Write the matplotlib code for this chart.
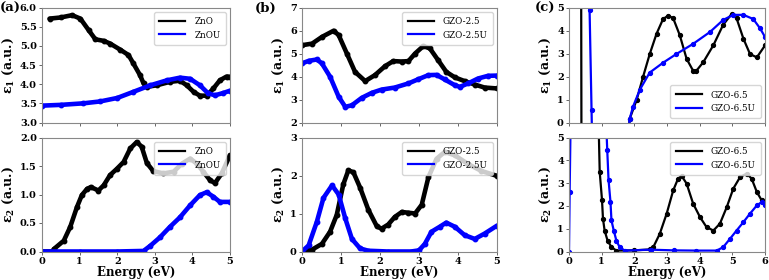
import matplotlib
matplotlib.use("Agg")
import matplotlib.pyplot as plt
from matplotlib.lines import Line2D

plt.rcParams['font.family'] = ['DejaVu Serif']
plt.rcParams['mathtext.fontset'] = 'dejavuserif'

# ---------------- Panel (a) ----------------
a1_zno_x = [0.2, 0.5, 0.8, 1.02, 1.24, 1.42, 1.64, 1.81, 2.08, 2.3, 2.43, 2.61, 2.7, 2.79, 3.05, 3.4, 3.67, 3.85, 4.03, 4.2, 4.38, 4.56, 4.73, 4.91, 5.0]
a1_zno_y = [5.71, 5.74, 5.8, 5.71, 5.41, 5.17, 5.13, 5.06, 4.9, 4.76, 4.54, 4.23, 4.02, 3.93, 3.97, 4.06, 4.09, 3.97, 3.8, 3.7, 3.7, 3.89, 4.1, 4.2, 4.19]
a1_znou_x = [0.0, 0.5, 1.1, 1.55, 2.0, 2.43, 2.88, 3.32, 3.67, 3.94, 4.2, 4.42, 4.6, 4.82, 5.0]
a1_znou_y = [3.44, 3.46, 3.5, 3.55, 3.64, 3.8, 3.97, 4.1, 4.17, 4.14, 3.97, 3.76, 3.71, 3.77, 3.83]

a2_zno_x = [0.0, 0.3, 0.31, 0.58, 0.75, 0.93, 1.06, 1.2, 1.3, 1.5, 1.64, 1.81, 1.99, 2.17, 2.35, 2.52, 2.65, 2.79, 2.96, 3.23, 3.5, 3.72, 3.94, 4.12, 4.29, 4.47, 4.6, 4.78, 5.0]
a2_zno_y = [0.0, 0.0, 0.04, 0.19, 0.43, 0.78, 0.99, 1.1, 1.13, 1.07, 1.16, 1.34, 1.45, 1.57, 1.81, 1.92, 1.84, 1.55, 1.41, 1.37, 1.4, 1.54, 1.63, 1.54, 1.4, 1.25, 1.2, 1.37, 1.69]
a2_znou_x = [0.0, 1.0, 2.0, 2.7, 2.88, 3.14, 3.4, 3.67, 3.94, 4.2, 4.38, 4.56, 4.73, 5.0]
a2_znou_y = [0.0, 0.0, 0.0, 0.01, 0.1, 0.25, 0.43, 0.6, 0.81, 0.99, 1.04, 0.96, 0.87, 0.87]

# ---------------- Panel (b) ----------------
b1_g_x = [0.0, 0.26, 0.51, 0.81, 0.94, 1.15, 1.36, 1.62, 1.87, 2.13, 2.34, 2.56, 2.73, 2.9, 3.11, 3.28, 3.49, 3.7, 3.92, 4.17, 4.43, 4.68, 5.0]
b1_g_y = [5.36, 5.43, 5.72, 5.99, 5.8, 5.0, 4.2, 3.8, 4.06, 4.45, 4.67, 4.65, 4.67, 5.0, 5.32, 5.22, 4.71, 4.2, 3.96, 3.8, 3.65, 3.52, 3.48]
b1_gu_x = [0.0, 0.17, 0.38, 0.51, 0.72, 0.94, 1.11, 1.28, 1.53, 1.79, 2.04, 2.38, 2.73, 2.98, 3.24, 3.45, 3.66, 3.92, 4.05, 4.26, 4.51, 4.77, 5.0]
b1_gu_y = [4.57, 4.68, 4.74, 4.57, 3.99, 3.12, 2.68, 2.75, 3.07, 3.29, 3.43, 3.52, 3.7, 3.88, 4.06, 4.07, 3.87, 3.62, 3.55, 3.7, 3.91, 4.03, 4.04]

b2_g_x = [0.0, 0.26, 0.51, 0.72, 0.89, 1.06, 1.19, 1.32, 1.49, 1.7, 1.92, 2.04, 2.21, 2.38, 2.56, 2.73, 2.9, 3.07, 3.24, 3.45, 3.66, 3.92, 4.26, 4.6, 5.0]
b2_g_y = [0.0, 0.05, 0.2, 0.52, 0.96, 1.77, 2.14, 2.08, 1.68, 1.1, 0.66, 0.6, 0.71, 0.91, 1.04, 1.02, 1.0, 1.23, 1.95, 2.44, 2.62, 2.53, 2.3, 2.12, 1.99]
b2_gu_x = [0.0, 0.17, 0.38, 0.55, 0.77, 0.94, 1.11, 1.28, 1.49, 1.7, 2.2, 2.8, 3.0, 3.15, 3.32, 3.53, 3.7, 3.92, 4.17, 4.43, 4.68, 5.0]
b2_gu_y = [0.0, 0.16, 0.78, 1.41, 1.74, 1.5, 0.87, 0.33, 0.08, 0.02, 0.0, 0.0, 0.03, 0.2, 0.52, 0.65, 0.76, 0.65, 0.43, 0.33, 0.47, 0.68]

# ---------------- Panel (c) ----------------
c1_g_x = [0.3, 0.37, 0.39, 0.6, 1.0, 1.5, 1.75, 1.86, 2.07, 2.27, 2.47, 2.68, 2.88, 3.04, 3.19, 3.39, 3.6, 3.8, 3.9, 4.11, 4.42, 4.72, 4.98, 5.13, 5.34, 5.54, 5.75, 6.0]
c1_g_y = [30.0, 8.0, -8.0, -20.0, -12.0, -5.0, -1.5, 0.17, 0.98, 2.0, 2.97, 3.86, 4.5, 4.65, 4.53, 3.8, 2.77, 2.25, 2.25, 2.62, 3.36, 4.25, 4.72, 4.53, 3.64, 2.98, 2.83, 3.35]
c1_gu_x = [0.3, 0.63, 0.69, 0.75, 1.0, 1.5, 1.75, 1.86, 1.96, 2.17, 2.47, 2.88, 3.29, 3.8, 4.32, 4.72, 5.03, 5.34, 5.64, 5.85, 6.0]
c1_gu_y = [15.0, 4.9, 0.55, -4.0, -8.0, -4.0, -1.5, 0.17, 0.69, 1.43, 2.17, 2.6, 2.98, 3.42, 3.94, 4.46, 4.68, 4.68, 4.5, 4.09, 3.72]

c2_g_x = [0.6, 0.9, 0.94, 1.01, 1.04, 1.09, 1.18, 1.3, 1.45, 2.0, 2.47, 2.58, 2.78, 2.99, 3.19, 3.34, 3.45, 3.6, 3.8, 4.01, 4.21, 4.42, 4.62, 4.83, 5.03, 5.24, 5.44, 5.59, 5.75, 5.9, 6.0]
c2_g_y = [30.0, 6.0, 3.49, 2.27, 1.44, 0.92, 0.48, 0.19, 0.04, 0.05, 0.09, 0.19, 0.78, 1.66, 2.68, 3.2, 3.31, 2.98, 2.1, 1.51, 1.07, 0.92, 1.22, 1.95, 2.76, 3.27, 3.42, 3.2, 2.61, 2.24, 2.13]
c2_gu_x = [0.0, 0.02, 0.07, 0.5, 1.1, 1.17, 1.21, 1.27, 1.3, 1.37, 1.45, 1.55, 1.71, 2.5, 3.2, 3.9, 4.52, 4.72, 4.93, 5.13, 5.34, 5.54, 5.75, 5.9, 6.0]
c2_gu_y = [0.0, 2.6, 8.0, 30.0, 7.0, 4.47, 3.15, 2.17, 1.36, 0.92, 0.48, 0.19, 0.04, 0.08, 0.05, 0.04, 0.04, 0.19, 0.56, 0.92, 1.29, 1.66, 2.02, 2.17, 2.02]

BLACK = '#000000'
BLUE = '#0000ff'
W, H = 769, 280
fig = plt.figure(figsize=(W / 100, H / 100), dpi=100)

cols = [(42, 230), (302, 497), (569, 765)]
top_rows = (7.5, 122.5)
bot_rows = (137.5, 251.5)

def mk(col, row):
    x0, x1 = cols[col]
    y0, y1 = row
    return fig.add_axes([x0 / W, 1 - y1 / H, (x1 - x0) / W, (y1 - y0) / H])

def style(ax):
    for s in ax.spines.values():
        s.set_color('#888888')
        s.set_linewidth(0.8)
    ax.tick_params(axis='both', labelsize=7, length=2.5, width=0.7, color='#666666', pad=1.2)
    for lab in ax.get_xticklabels() + ax.get_yticklabels():
        lab.set_fontweight('bold')

def legend(ax, names, loc):
    hs = [Line2D([], [], color=BLACK, lw=1.6), Line2D([], [], color=BLUE, lw=1.6)]
    ax.legend(hs, names, loc=loc, fontsize=6.3, handlelength=3.0, frameon=True,
              borderpad=0.6, labelspacing=0.5, handletextpad=1.0, fancybox=True,
              framealpha=0.8, edgecolor='#cccccc')

lab1 = r'$\mathbf{\varepsilon_1}$ (a.u.)'
lab2 = r'$\mathbf{\varepsilon_2}$ (a.u.)'

def draw(ax, x, y, c, lw, ms):
    ax.plot(x, y, color=c, lw=lw, marker='o', ms=ms, mec=c, mfc=c,
            solid_joinstyle='round', solid_capstyle='round')

THICK, THMS = 3.3, 3.2

# (a)
ax = mk(0, top_rows)
draw(ax, a1_zno_x, a1_zno_y, BLACK, THICK, THMS)
draw(ax, a1_znou_x, a1_znou_y, BLUE, THICK, THMS)
ax.set_xlim(0, 5); ax.set_ylim(3.0, 6.0)
ax.set_xticks(range(0, 6)); ax.set_xticklabels([])
ax.set_yticks([3.0, 3.5, 4.0, 4.5, 5.0, 5.5, 6.0])
ax.set_yticklabels(['3.0', '3.5', '4.0', '4.5', '5.0', '5.5', '6.0'])
ax.set_ylabel(lab1, fontsize=9, fontweight='bold', labelpad=3)
legend(ax, ['ZnO', 'ZnOU'], 'upper right')
style(ax)

ax = mk(0, bot_rows)
draw(ax, a2_zno_x, a2_zno_y, BLACK, THICK, THMS)
draw(ax, a2_znou_x, a2_znou_y, BLUE, THICK, THMS)
ax.set_xlim(0, 5); ax.set_ylim(0, 2.0)
ax.set_xticks(range(0, 6))
ax.set_yticks([0.0, 0.5, 1.0, 1.5, 2.0])
ax.set_yticklabels(['0.0', '0.5', '1.0', '1.5', '2.0'])
ax.set_ylabel(lab2, fontsize=9, fontweight='bold', labelpad=3)
ax.set_xlabel('Energy (eV)', fontsize=8.5, fontweight='bold', labelpad=0.5)
legend(ax, ['ZnO', 'ZnOU'], 'upper right')
style(ax)

# (b)
ax = mk(1, top_rows)
draw(ax, b1_g_x, b1_g_y, BLACK, THICK, THMS)
draw(ax, b1_gu_x, b1_gu_y, BLUE, THICK, THMS)
ax.set_xlim(0, 5); ax.set_ylim(2, 7)
ax.set_xticks(range(0, 6)); ax.set_xticklabels([])
ax.set_yticks(range(2, 8))
ax.set_ylabel(lab1, fontsize=9, fontweight='bold', labelpad=3)
legend(ax, ['GZO-2.5', 'GZO-2.5U'], 'upper right')
style(ax)

ax = mk(1, bot_rows)
draw(ax, b2_g_x, b2_g_y, BLACK, THICK, THMS)
draw(ax, b2_gu_x, b2_gu_y, BLUE, THICK, THMS)
ax.set_xlim(0, 5); ax.set_ylim(0, 3)
ax.set_xticks(range(0, 6))
ax.set_yticks(range(0, 4))
ax.set_ylabel(lab2, fontsize=9, fontweight='bold', labelpad=3)
ax.set_xlabel('Energy (eV)', fontsize=8.5, fontweight='bold', labelpad=0.5)
legend(ax, ['GZO-2.5', 'GZO-2.5U'], 'upper right')
style(ax)

# (c)
ax = mk(2, top_rows)
draw(ax, c1_g_x, c1_g_y, BLACK, 1.6, 2.8)
draw(ax, c1_gu_x, c1_gu_y, BLUE, 1.6, 2.8)
ax.set_xlim(0, 6); ax.set_ylim(0, 5)
ax.set_xticks(range(0, 7)); ax.set_xticklabels([])
ax.set_yticks(range(0, 6))
ax.set_ylabel(lab1, fontsize=9, fontweight='bold', labelpad=3)
legend(ax, ['GZO-6.5', 'GZO-6.5U'], 'lower right')
style(ax)

ax = mk(2, bot_rows)
draw(ax, c2_g_x, c2_g_y, BLACK, 1.6, 2.8)
draw(ax, c2_gu_x, c2_gu_y, BLUE, 1.6, 2.8)
ax.set_xlim(0, 6); ax.set_ylim(0, 5)
ax.set_xticks(range(0, 7))
ax.set_yticks(range(0, 6))
ax.set_ylabel(lab2, fontsize=9, fontweight='bold', labelpad=3)
ax.set_xlabel('Energy (eV)', fontsize=8.5, fontweight='bold', labelpad=0.5)
legend(ax, ['GZO-6.5', 'GZO-6.5U'], 'upper right')
style(ax)

fig.text(0 / W, 1 - 8 / H, '(a)', fontsize=9.5, fontweight='bold', va='center', ha='left')
fig.text(255 / W, 1 - 8 / H, '(b)', fontsize=9.5, fontweight='bold', va='center', ha='left')
fig.text(535 / W, 1 - 8 / H, '(c)', fontsize=9.5, fontweight='bold', va='center', ha='left')

fig.savefig('out.png', dpi=100)
